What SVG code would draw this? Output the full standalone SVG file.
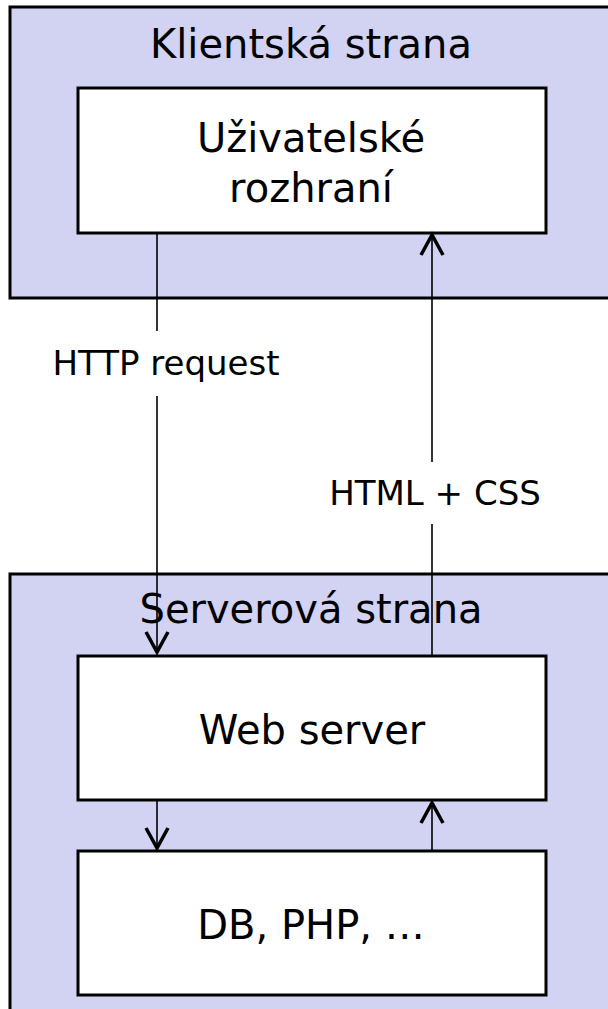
<svg xmlns="http://www.w3.org/2000/svg" width="608" height="1009" viewBox="0 0 608 1009">
<style>
.outer{fill:#d2d2f2;stroke:#000;stroke-width:3}
.box{fill:#fff;stroke:#000;stroke-width:3}
.title{font-family:"DejaVu Sans",Verdana,sans-serif;font-size:40px;fill:#000;text-anchor:middle}
.lbl{font-family:"DejaVu Sans",Verdana,sans-serif;font-size:34px;fill:#000;text-anchor:middle}
.conn{stroke:#000;stroke-width:1.6;fill:none;marker-end:url(#arr)}
</style>
<defs>
<marker id="arr" markerUnits="userSpaceOnUse" viewBox="-26 -16 30 32" refX="0" refY="0" markerWidth="30" markerHeight="32" orient="auto">
<path d="M-20,-11 L0,0 L-20,11" fill="none" stroke="#000" stroke-width="3.5"/>
</marker>
</defs>
<rect width="608" height="1009" fill="#fff"/>
<g id="client">
<rect class="outer" x="10" y="7" width="620" height="291"/>
<text class="title" x="311" y="58">Klientská strana</text>
</g>
<g id="ui">
<rect class="box" x="78" y="88" width="468" height="145"/>
<text class="title" x="311" y="152">Uživatelské</text>
<text class="title" x="311" y="202">rozhraní</text>
</g>
<g id="server">
<rect class="outer" x="10" y="574" width="620" height="460"/>
<text class="title" x="311" y="623">Serverová strana</text>
</g>
<g id="web">
<rect class="box" x="78" y="656" width="468" height="144"/>
<text class="title" x="312" y="744">Web server</text>
</g>
<g id="db">
<rect class="box" x="78" y="851" width="468" height="144"/>
<text class="title" x="311" y="939">DB, PHP, …</text>
</g>
<g id="connectors">
<line class="conn" x1="157" y1="234" x2="157" y2="652"/>
<line class="conn" x1="432" y1="656" x2="432" y2="235"/>
<line class="conn" x1="157" y1="801" x2="157" y2="848"/>
<line class="conn" x1="432" y1="851" x2="432" y2="803"/>
<g id="label-http">
<rect x="44" y="331" width="244" height="65" fill="#fff"/>
<text class="lbl" x="166" y="375">HTTP request</text>
</g>
<g id="label-html">
<rect x="322" y="462" width="228" height="62" fill="#fff"/>
<text class="lbl" x="435" y="505">HTML + CSS</text>
</g>
</g>
</svg>
